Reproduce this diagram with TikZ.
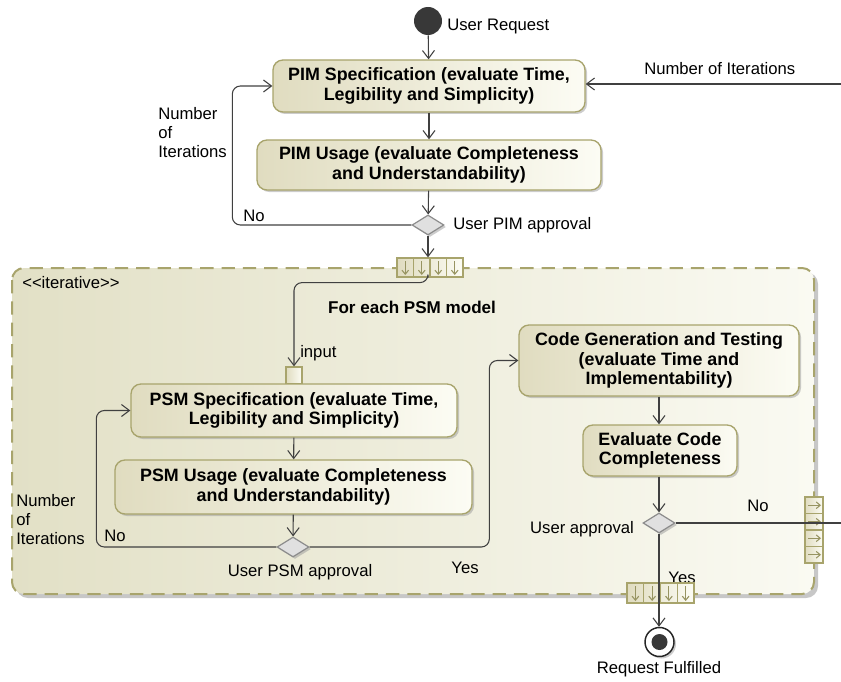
\documentclass[tikz,border=0pt]{standalone}
\usepackage{fontspec}
\setmainfont{Liberation Sans}
\usetikzlibrary{arrows.meta,shapes.geometric,shadows,calc}
\definecolor{umlolive}{HTML}{A8A46C}
\definecolor{boxdark}{HTML}{E0DCC0}
\definecolor{boxlight}{HTML}{FCFCF4}
\definecolor{regdark}{HTML}{E2E0C6}
\definecolor{reglight}{HTML}{FAFAF2}
\definecolor{linec}{HTML}{404040}
\begin{document}
\begin{tikzpicture}[x=0.75pt,y=-0.75pt,
  act/.style={draw=umlolive, line width=1pt, rounded corners=7.5pt,
    left color=boxdark, right color=boxlight, align=center,
    font=\fontsize{13.4}{14.5}\selectfont\bfseries,
    drop shadow={shadow xshift=1.5pt, shadow yshift=-1.5pt, fill=black!40, opacity=0.5}},
  dec/.style={diamond, draw=black!45, fill=black!12, line width=0.9pt,
    minimum width=24pt, minimum height=15pt, inner sep=0pt,
    drop shadow={shadow xshift=1.5pt, shadow yshift=-1.5pt, fill=black!40, opacity=0.5}},
  flow/.style={draw=linec, line width=0.8pt, -{Straight Barb[length=6pt,width=9pt]}},
  plain/.style={draw=linec, line width=0.8pt},
  lbl/.style={font=\fontsize{12.5}{14.25}\selectfont, inner sep=0pt},
  pinbox/.style={draw=umlolive, line width=0.9pt, left color=boxdark, right color=boxlight, inner sep=0pt},
  pinarrow/.style={draw=umlolive!90!black, line width=0.8pt, -{Straight Barb[length=3pt,width=5pt]}}
]
\useasboundingbox (0,0) rectangle (841,681);

% expansion region
\fill[black!22, rounded corners=9pt] (16,272) rectangle (818,598);
\draw[umlolive, line width=1.5pt, dash pattern=on 10pt off 6pt, rounded corners=9pt,
  left color=regdark, right color=reglight] (12,268) rectangle (814,594);
\node[lbl, anchor=west] (iter) at (22,283) {<\kern0pt<iterative>\kern0pt>};
\node[lbl, font=\fontsize{12.8}{14.25}\selectfont\bfseries] (foreach) at (412,307) {For each PSM model};

% initial node
\node[circle, fill=black!78, minimum size=21pt, inner sep=0pt] (init) at (428,21) {};
\node[lbl, anchor=west] (ureq) at (447,26) {User Request};

% PIM part
\node[act, minimum width=234pt, minimum height=39pt] (pimspec) at (429,86)
  {PIM Specification (evaluate Time,\\Legibility and Simplicity)};
\node[act, minimum width=258pt, minimum height=37.5pt] (pimuse) at (429,165)
  {PIM Usage (evaluate Completeness\\and Understandability)};
\node[dec] (d1) at (428,225) {};
\node[lbl, anchor=west] (d1l) at (453,225) {User PIM approval};
\node[lbl, anchor=west] (no1) at (243,216) {No};
\node[lbl, anchor=north west, align=left] (nit1) at (158,107) {Number\\of\\Iterations};
\node[lbl, anchor=west] (nit0) at (644,69) {Number of Iterations};
\coordinate (rin) at (841,84);

\draw[flow] (init) -- (pimspec);
\draw[flow] (pimspec) -- (pimuse);
\draw[flow] (pimuse) -- (d1);
\draw[flow, rounded corners=6pt] (d1.west) -| ([xshift=-30pt]pimspec.west) -- (pimspec.west);
\draw[flow] (rin) -- (rin -| pimspec.east);

% top expansion node
\node[pinbox, minimum width=49.5pt, minimum height=14.25pt] (topexp) at (430,267.5) {};
\foreach \i in {1,2,3} \draw[umlolive, line width=0.8pt] (397+16.5*\i,258) -- (397+16.5*\i,277);
\foreach \i in {0,1,2,3} \draw[pinarrow] (405.25+16.5*\i,261) -- (405.25+16.5*\i,275);
\draw[flow] (d1.south) -- (d1.south |- topexp.north);

% input pin
\node[pinbox, minimum width=12pt, minimum height=12.75pt] (pin) at (294,375.5) {};
\node[lbl, anchor=west] (inl) at (300,353) {input};
\draw[flow, rounded corners=6pt] (d1.south |- topexp.south) -- ++(0,5) -| (pin.north);

% PSM part
\node[act, minimum width=244.5pt, minimum height=39.75pt] (pspec) at (294,410.5)
  {PSM Specification (evaluate Time,\\Legibility and Simplicity)};
\node[act, minimum width=267.75pt, minimum height=40.5pt] (puse) at (293.5,487)
  {PSM Usage (evaluate Completeness\\and Understandability)};
\node[dec] (d2) at (293,547) {};
\node[lbl] (d2l) at (300,572) {User PSM approval};
\node[lbl, anchor=west] (no2) at (104,536) {No};
\node[lbl, anchor=north west, align=left] (nit2) at (16,494) {Number\\of\\Iterations};
\node[lbl] (yes1) at (465,568) {Yes};

\draw[flow] (pspec) -- (puse);
\draw[flow] (puse) -- (d2);
\draw[flow, rounded corners=6pt] (d2.west) -| ([xshift=-25.5pt]pspec.west) -- (pspec.west);

% code part
\node[act, minimum width=210pt, minimum height=53.25pt] (codegen) at (659,360.5)
  {Code Generation and Testing\\(evaluate Time and\\Implementability)};
\node[act, minimum width=115.5pt, minimum height=38.25pt] (evalc) at (660,450.5)
  {Evaluate Code\\Completeness};
\node[dec] (d3) at (659,523) {};
\node[lbl] (d3l) at (582,529) {User approval};
\node[lbl] (no3) at (758,506) {No};
\node[lbl] (yes2) at (682,578) {Yes};

\draw[flow, rounded corners=6pt] (d2.east) -| ([xshift=-21.75pt]codegen.west) -- (codegen.west);
\draw[flow] (codegen.south -| d3.north) -- (evalc.north -| d3.north);
\draw[flow] (evalc.south -| d3.north) -- (d3.north);

% right output pin
\node[pinbox, minimum width=13.5pt, minimum height=49.5pt] (rpin) at (814,530) {};
\foreach \i in {1,2,3} \draw[umlolive, line width=0.8pt] (805,497+16.5*\i) -- (823,497+16.5*\i);
\foreach \i in {0,1,2,3} \draw[pinarrow] (808,505.25+16.5*\i) -- (821,505.25+16.5*\i);
\coordinate (rout) at (841,523);
\draw[plain] (d3.east) -- (rout);

% bottom expansion node
\node[pinbox, minimum width=50.25pt, minimum height=15pt] (botexp) at (660.5,593) {};
\foreach \i in {1,2,3} \draw[umlolive, line width=0.8pt] (627+16.75*\i,583) -- (627+16.75*\i,603);
\foreach \i in {0,1,2,3} \draw[pinarrow] (635.4+16.75*\i,586) -- (635.4+16.75*\i,601);

% final node
\node[circle, draw=black!85, line width=1.1pt, fill=white, minimum size=21.75pt, inner sep=0pt,
  drop shadow={shadow xshift=1.5pt, shadow yshift=-1.5pt, fill=black!40, opacity=0.5}] (final) at (659.5,642) {};
\fill[black!78] (final.center) circle (6pt);
\node[lbl] (rf) at (659,669) {Request Fulfilled};
\draw[flow] (d3.south) -- (d3.south |- final.north);
\end{tikzpicture}
\end{document}
